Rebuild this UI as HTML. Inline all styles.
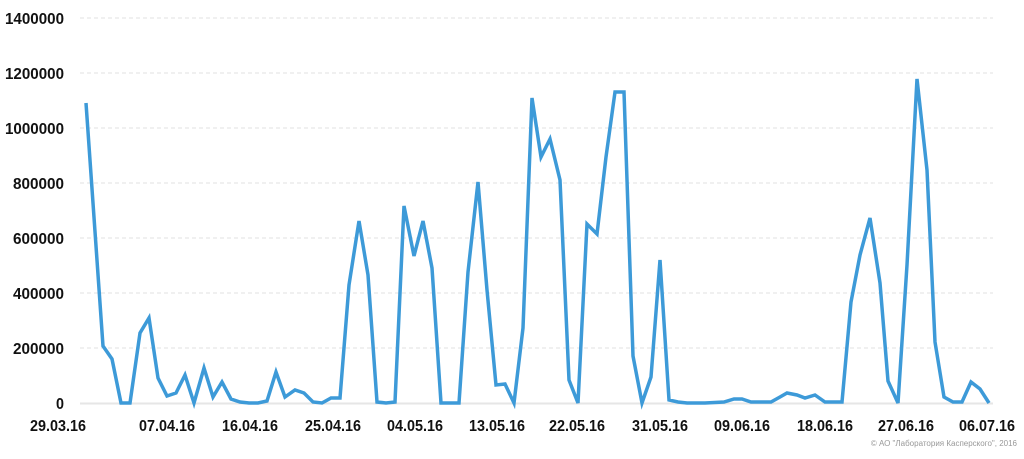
<!DOCTYPE html>
<html><head><meta charset="utf-8"><style>
html,body{margin:0;padding:0;background:#fff;}
svg text{font-family:"Liberation Sans",sans-serif;font-weight:bold;font-size:16px;fill:#111;}
</style></head><body>
<svg width="1024" height="454" viewBox="0 0 1024 454" xmlns="http://www.w3.org/2000/svg">
<g stroke="#e2e2e2" stroke-width="1" stroke-dasharray="4,3">
<line x1="80" y1="18" x2="993" y2="18"/>
<line x1="80" y1="73" x2="993" y2="73"/>
<line x1="80" y1="128" x2="993" y2="128"/>
<line x1="80" y1="183" x2="993" y2="183"/>
<line x1="80" y1="238" x2="993" y2="238"/>
<line x1="80" y1="293" x2="993" y2="293"/>
<line x1="80" y1="348" x2="993" y2="348"/>
</g>
<line x1="80" y1="403.5" x2="993" y2="403.5" stroke="#e6e6e6" stroke-width="2"/>
<g lengthAdjust="spacingAndGlyphs">
<text x="5" y="24" textLength="59" lengthAdjust="spacingAndGlyphs">1400000</text>
<text x="5" y="79" textLength="59" lengthAdjust="spacingAndGlyphs">1200000</text>
<text x="5" y="134" textLength="59" lengthAdjust="spacingAndGlyphs">1000000</text>
<text x="13" y="189" textLength="51" lengthAdjust="spacingAndGlyphs">800000</text>
<text x="13" y="244" textLength="51" lengthAdjust="spacingAndGlyphs">600000</text>
<text x="13" y="299" textLength="51" lengthAdjust="spacingAndGlyphs">400000</text>
<text x="13" y="354" textLength="51" lengthAdjust="spacingAndGlyphs">200000</text>
<text x="56" y="409" textLength="8" lengthAdjust="spacingAndGlyphs">0</text>
</g>
<g>
<text x="30" y="431" textLength="56" lengthAdjust="spacingAndGlyphs">29.03.16</text>
<text x="139" y="431" textLength="56" lengthAdjust="spacingAndGlyphs">07.04.16</text>
<text x="222" y="431" textLength="56" lengthAdjust="spacingAndGlyphs">16.04.16</text>
<text x="305" y="431" textLength="56" lengthAdjust="spacingAndGlyphs">25.04.16</text>
<text x="387" y="431" textLength="56" lengthAdjust="spacingAndGlyphs">04.05.16</text>
<text x="469" y="431" textLength="56" lengthAdjust="spacingAndGlyphs">13.05.16</text>
<text x="549" y="431" textLength="56" lengthAdjust="spacingAndGlyphs">22.05.16</text>
<text x="632" y="431" textLength="56" lengthAdjust="spacingAndGlyphs">31.05.16</text>
<text x="714" y="431" textLength="56" lengthAdjust="spacingAndGlyphs">09.06.16</text>
<text x="797" y="431" textLength="56" lengthAdjust="spacingAndGlyphs">18.06.16</text>
<text x="878" y="431" textLength="56" lengthAdjust="spacingAndGlyphs">27.06.16</text>
<text x="959" y="431" textLength="56" lengthAdjust="spacingAndGlyphs">06.07.16</text>
</g>
<text x="1017" y="446" text-anchor="end" style="font-weight:normal;font-size:8px;fill:#999;">© АО "Лаборатория Касперского", 2016</text>
<polyline fill="none" stroke="#3d9ad8" stroke-width="3.5" stroke-linejoin="miter" points="86,103 103,346 112,359 121,403 130,403 140,333 149,318 158,378 167,396 176,393 185,375 194,403 204,368 213,397 222,382 231,399 240,402 249,403 258,403 267,401 276,372 285,397 295,390 304,393 313,402 322,403 331,398 340,398 349,285 359,221 368,275 377,402 386,403 395,402 404,206 414,256 423,221 432,268 441,403 450,403 459,403 468,272 478,182 487,290 496,385 505,384 514,403 523,328 532,98 541,157 550,139 560,180 569,380 578,403 587,224 597,234 606,157 615,92 624,92 633,356 642,403 651,377 660,260 669,400 678,402 687,403 705,403 724,402 734,399 742,399 751,402 771,402 780,397 787,393 797,395 805,398 815,395 825,402 842,402 851,302 860,255 870,218 880,283 888,381 898,403 907,265 917,79 927,170 935,342 944,397 953,402 962,402 971,382 980,389 989,403"/>
</svg>
</body></html>
